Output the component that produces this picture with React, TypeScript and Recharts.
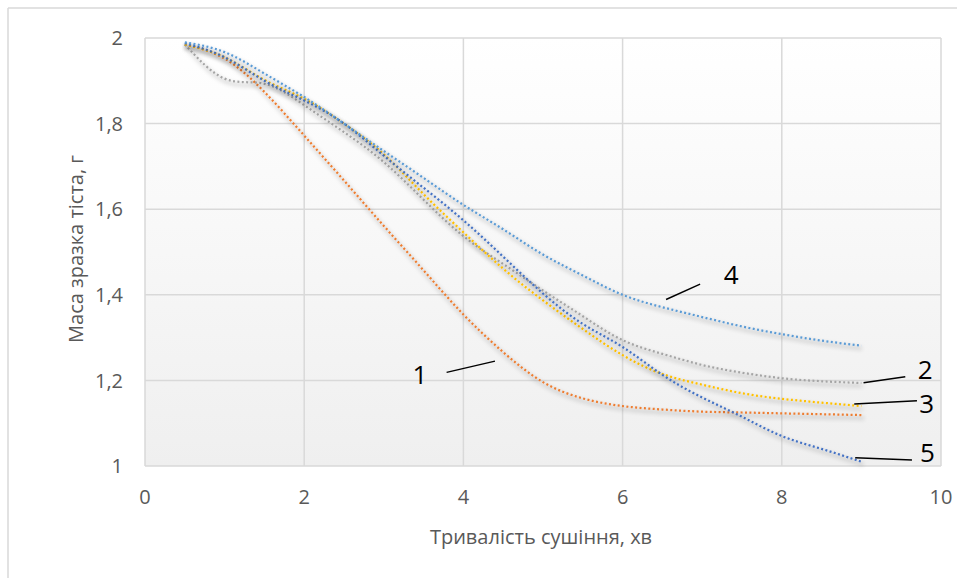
import React from 'react';
import {
  LineChart, Line, XAxis, YAxis, CartesianGrid, ReferenceLine, ReferenceDot, Label,
} from 'recharts';

// drying time, min
const timeValues = [0.5, 1, 1.5, 2, 2.5, 3, 3.5, 4, 4.5, 5, 5.5, 6, 6.5, 7, 7.5, 8, 8.5, 9];
// sample mass, g
const curve1 = [1.985, 1.952, 1.874, 1.772, 1.667, 1.561, 1.457, 1.354, 1.266, 1.196, 1.158, 1.14, 1.132, 1.127, 1.125, 1.123, 1.121, 1.119];
const curve2 = [1.985, 1.905, 1.893, 1.843, 1.78, 1.71, 1.622, 1.537, 1.472, 1.41, 1.35, 1.294, 1.262, 1.236, 1.218, 1.205, 1.198, 1.194];
const curve3 = [1.985, 1.955, 1.902, 1.858, 1.8, 1.728, 1.635, 1.546, 1.461, 1.387, 1.32, 1.259, 1.215, 1.19, 1.17, 1.157, 1.148, 1.14];
const curve4 = [1.99, 1.967, 1.917, 1.862, 1.8, 1.736, 1.673, 1.61, 1.553, 1.494, 1.445, 1.4, 1.371, 1.348, 1.326, 1.308, 1.293, 1.281];
const curve5 = [1.988, 1.955, 1.9, 1.854, 1.8, 1.725, 1.65, 1.574, 1.489, 1.403, 1.332, 1.278, 1.213, 1.16, 1.115, 1.07, 1.04, 1.01];

const xTicks = [0, 2, 4, 6, 8, 10];
const yTicks = [1, 1.2, 1.4, 1.6, 1.8, 2];

const xTitle = 'Тривалість сушіння, хв';
const yTitle = 'Маса зразка тіста, г';

// callout labels: text position and leader line ends (data coordinates)
const calloutNames = ['1', '2', '3', '4', '5'];
const calloutText = [
  { x: 3.453, y: 1.212 },
  { x: 9.8, y: 1.226 },
  { x: 9.82, y: 1.145 },
  { x: 7.364, y: 1.446 },
  { x: 9.83, y: 1.03 },
];
const calloutLines = [
  [{ x: 3.789, y: 1.2187 }, { x: 4.397, y: 1.2451 }],
  [{ x: 9.027, y: 1.1944 }, { x: 9.551, y: 1.2085 }],
  [{ x: 8.91, y: 1.1447 }, { x: 9.698, y: 1.1524 }],
  [{ x: 6.546, y: 1.389 }, { x: 6.974, y: 1.4248 }],
  [{ x: 8.922, y: 1.0194 }, { x: 9.635, y: 1.014 }],
];

const data = timeValues.map((t, i) => ({
  t,
  c1: curve1[i],
  c2: curve2[i],
  c3: curve3[i],
  c4: curve4[i],
  c5: curve5[i],
}));

const seriesDefs = [
  { key: 'c1', color: '#ED7D31' },
  { key: 'c2', color: '#A5A5A5' },
  { key: 'c3', color: '#FFC000' },
  { key: 'c5', color: '#4472C4' },
  { key: 'c4', color: '#5B9BD5' },
];

const FONT = '"Open Sans", "Noto Sans", sans-serif';
const fmt = (v: number) => String(v).replace('.', ',');

export default function App() {
  return (
    <div style={{ position: 'absolute', left: 0, top: 0, width: 957, height: 578, background: '#fff' }}>
      <svg width={0} height={0} style={{ position: 'absolute' }}>
        <defs>
          <linearGradient id="plotBg" x1="0" y1="0" x2="0" y2="1">
            <stop offset="0%" stopColor="#ffffff" />
            <stop offset="100%" stopColor="#efefef" />
          </linearGradient>
          <filter id="lineShadow" x="-10%" y="-10%" width="120%" height="130%">
            <feDropShadow dx="1.5" dy="3" stdDeviation="2" floodColor="#000" floodOpacity="0.45" />
          </filter>
        </defs>
      </svg>
      <LineChart
        width={957}
        height={578}
        data={data}
        margin={{ top: 38, right: 16, left: 65, bottom: 72 }}
      >
        <CartesianGrid stroke="#d9d9d9" strokeWidth={1.5} fill="url(#plotBg)" />
        <XAxis
          dataKey="t"
          type="number"
          domain={[0, 10]}
          ticks={xTicks}
          axisLine={false}
          tickLine={false}
          tickSize={0}
          tickMargin={24}
          height={40}
          tick={{ fill: '#595959', fontSize: 20, fontFamily: FONT }}
        />
        <YAxis
          type="number"
          domain={[1, 2]}
          ticks={yTicks}
          tickFormatter={fmt}
          axisLine={false}
          tickLine={false}
          tickSize={0}
          tickMargin={22}
          width={80}
          tick={{ fill: '#595959', fontSize: 20, fontFamily: FONT }}
        />
        {seriesDefs.map((s) => (
          <Line
            key={s.key}
            type="natural"
            dataKey={s.key}
            stroke={s.color}
            strokeWidth={2.25}
            strokeDasharray="2 2.4"
            dot={false}
            activeDot={false}
            filter="url(#lineShadow)"
            isAnimationActive={false}
          />
        ))}
        {calloutLines.map((seg, i) => (
          <ReferenceLine
            key={'l' + i}
            segment={seg}
            stroke="#000"
            strokeWidth={1.4}
            ifOverflow="visible"
          />
        ))}
        {calloutText.map((p, i) => (
          <ReferenceDot
            key={'d' + i}
            x={p.x}
            y={p.y}
            r={1}
            fill="none"
            stroke="none"
            ifOverflow="visible"
          >
            <Label
              value={calloutNames[i]}
              position="center"
              fill="#000"
              fontSize={26}
              fontFamily={FONT}
            />
          </ReferenceDot>
        ))}
      </LineChart>
      <svg
        width={957}
        height={578}
        style={{ position: 'absolute', left: 0, top: 0, pointerEvents: 'none' }}
      >
        <line x1={8} y1={8} x2={957} y2={8} stroke="#d9d9d9" strokeWidth={1.5} />
        <line x1={8} y1={8} x2={8} y2={578} stroke="#d9d9d9" strokeWidth={1.5} />
        <text x={541} y={544} textAnchor="middle" fill="#595959" fontSize={20} fontFamily={FONT}>
          {xTitle}
        </text>
        <text
          x={83}
          y={249}
          textAnchor="middle"
          fill="#595959"
          fontSize={20}
          fontFamily={FONT}
          transform="rotate(-90, 83, 249)"
        >
          {yTitle}
        </text>
      </svg>
    </div>
  );
}
